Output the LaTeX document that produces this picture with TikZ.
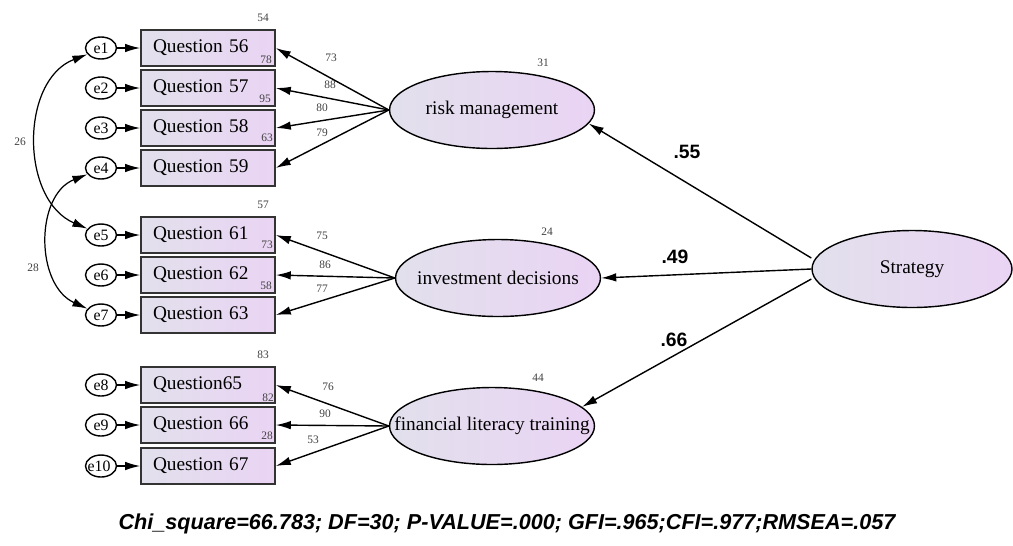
\documentclass[tikz,border=0pt]{standalone}
\usepackage{fontspec}
\setmainfont{Liberation Serif}
\setsansfont{Liberation Sans}
\usetikzlibrary{arrows.meta,shapes.geometric}

\definecolor{lavpink}{RGB}{234,212,244}
\definecolor{lavgray}{RGB}{226,224,236}

\tikzset{
  obs/.style={draw=black!80, line width=0.9pt, left color=lavgray, right color=lavpink,
    minimum height=0.72cm, text width=2.2cm, inner xsep=0.24cm, align=left,
    font=\fontsize{11}{13}\selectfont},
  err/.style={ellipse, draw, line width=0.8pt, fill=white, minimum width=0.62cm,
    minimum height=0.44cm, inner sep=0pt, font=\fontsize{9}{10}\selectfont},
  lat/.style={ellipse, draw, line width=0.8pt, left color=lavgray, right color=lavpink,
    minimum width=4.1cm, minimum height=1.54cm, inner sep=0pt,
    font=\fontsize{11}{13}\selectfont},
  arr/.style={-{Latex[length=3mm,width=1.7mm]}, line width=0.8pt},
  cov/.style={{Latex[length=3mm,width=1.7mm]}-{Latex[length=3mm,width=1.7mm]}, line width=0.7pt},
  num/.style={inner sep=0pt, text=black!75, font=\fontsize{6.5}{7}\selectfont},
  coef/.style={inner sep=0pt, font=\sffamily\bfseries\fontsize{11}{13}\selectfont}
}

\begin{document}
\begin{tikzpicture}[x=0.02cm,y=-0.02cm]
  \useasboundingbox (0,0) rectangle (1013,545);

  % Draw the latent variables
  \node[lat] (risk) at (492,110) {\makebox[0pt]{risk management}};
  \node[lat] (inv) at (498,278) {\makebox[0pt]{investment decisions}};
  \node[lat] (fin) at (492,426) {\makebox[0pt]{financial literacy training}};
  \node[lat, minimum width=4.0cm] (strat) at (912,269) {\makebox[0pt]{Strategy}};

  % Add the items and their error terms
  \foreach \name/\y/\txt/\e in {
      q56/48/Question 56/1,
      q57/88/Question 57/2,
      q58/128/Question 58/3,
      q59/168/Question 59/4,
      q61/235/Question 61/5,
      q62/275/Question 62/6,
      q63/315/Question 63/7,
      q65/385/Question65/8,
      q66/425/Question 66/9,
      q67/466/Question 67/10
  } {
      \node[obs] (\name) at (208,\y) {\txt};
      \node[err] (e\e) at (101,\y) {\makebox[0pt]{e\e}};
      \draw[arr] (e\e) -- (\name);
  }

  % Add loadings
  \foreach \item/\lat/\val/\lx/\ly in {
      q56/risk/73/331/58,
      q57/risk/88/330/85,
      q58/risk/80/322/108,
      q59/risk/79/322/133,
      q61/inv/75/322/236,
      q62/inv/86/325/265,
      q63/inv/77/322/289,
      q65/fin/76/328/387,
      q66/fin/90/325/414,
      q67/fin/53/313/440
  } {
      \draw[arr] (\lat.west) -- (\item.east);
      \node[num] (l-\item) at (\lx,\ly) {\val};
  }

  % Add squared multiple correlations
  \foreach \i/\val/\lx/\ly in {
      a/54/263/18, b/57/263/205, c/83/263/355,
      d/78/266/60, e/95/265/99, f/63/267/138,
      g/73/267/245, h/58/266/286, k/82/268/398, m/28/267/436,
      n/31/543/63, p/24/547/232, r/44/538/378
  } {
      \node[num] (r-\i) at (\lx,\ly) {\val};
  }

  % Add covariances
  \draw[cov] (e1.205) .. controls (20,80) and (20,200) .. (e5.155);
  \draw[cov] (e4.205) .. controls (35,195) and (35,285) .. (e7.155);
  \node[num] (c-a) at (20,142) {26};
  \node[num] (c-b) at (33,268) {28};

  % Add structural paths
  \draw[arr] ([yshift=0.22cm]strat.west) -- (risk.-8);
  \draw[arr] (strat.west) -- (inv.east);
  \draw[arr] ([yshift=-0.2cm]strat.west) -- (fin.12);
  \node[coef] (s-a) at (687,152) {.55};
  \node[coef] (s-b) at (675,257) {.49};
  \node[coef] (s-c) at (674,340) {.66};

  % Add fit indices
  \node[inner sep=0pt, font=\sffamily\bfseries\itshape\fontsize{12.3}{14}\selectfont] (fit) at (507,524)
      {Chi\_square=66.783; DF=30; P-VALUE=.000; GFI=.965;CFI=.977;RMSEA=.057};
\end{tikzpicture}
\end{document}
